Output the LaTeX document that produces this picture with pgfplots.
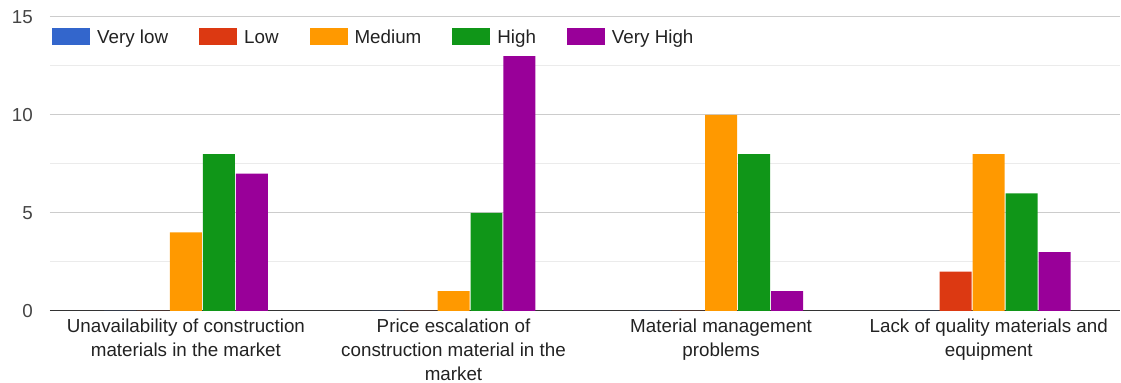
\documentclass[border=0pt]{standalone}
\usepackage{pgfplots}
\pgfplotsset{compat=1.18}
\usepackage{fontspec}
\setmainfont{Liberation Sans}
\definecolor{cVL}{HTML}{3366CC}
\definecolor{cL}{HTML}{DC3912}
\definecolor{cM}{HTML}{FF9900}
\definecolor{cH}{HTML}{109618}
\definecolor{cVH}{HTML}{990099}
\definecolor{txt}{HTML}{222222}
\definecolor{tick}{HTML}{444444}
\newcommand\ls{\rule[-3pt]{0pt}{19.2pt}}
\begin{document}
\fontsize{18.8}{24}\selectfont
\begin{tikzpicture}
\begin{axis}[
  at={(0,0)}, anchor=south west,
  scale only axis,
  width=1071pt, height=294pt,
  xmin=-0.508, xmax=3.492,
  ymin=0, ymax=15,
  ybar=1pt, bar width=32pt,
  xtick={0,1,2,3},
  xticklabels={{Unavailability of construction\\materials in the market},
               {Price escalation of\\construction material in the\\market},
               {Material management\\problems},
               {Lack of quality materials and\\equipment}},
  xticklabel style={align=center, inner sep=0pt, yshift=-8pt, text=txt, font=\fontsize{18.8}{24}\selectfont},
  ytick={0,5,10,15},
  minor ytick={2.5,7.5,12.5},
  yticklabel style={inner sep=0pt, xshift=-17pt, text=tick, font=\fontsize{18.8}{24}\selectfont},
  /pgf/number format/assume math mode=true,
  major tick length=0pt, minor tick length=0pt,
  ymajorgrids, yminorgrids,
  major grid style={draw=black!20, line width=1pt},
  minor grid style={draw=black!8, line width=1pt},
  axis x line*=bottom, axis y line*=left,
  x axis line style={draw=black!80, line width=1.3pt, -},
  y axis line style={draw=none},
  legend columns=-1,
  legend style={at={(rel axis cs:0.0019,0.932)}, anchor=west, draw=none, fill=none,
    inner sep=0pt, cells={anchor=west}, nodes={inner sep=0pt, text=txt, font=\fontsize{18.8}{24}\selectfont},
    /tikz/every odd column/.append style={column sep=7pt},
    /tikz/every even column/.append style={column sep=31pt}},
  legend image code/.code={\fill[#1] (0pt,-8.5pt) rectangle (38pt,8.5pt);},
]
\addplot[fill=cVL, draw=none] coordinates {(0,0) (1,0) (2,0) (3,0)};
\addplot[fill=cL, draw=none] coordinates {(0,0) (1,0) (2,0) (3,2)};
\addplot[fill=cM, draw=none] coordinates {(0,4) (1,1) (2,10) (3,8)};
\addplot[fill=cH, draw=none] coordinates {(0,8) (1,5) (2,8) (3,6)};
\addplot[fill=cVH, draw=none] coordinates {(0,7) (1,13) (2,1) (3,3)};
\legend{\ls Very low, \ls Low, \ls Medium, \ls High, \ls Very High}
\end{axis}
\path[use as bounding box] (-50pt,-72pt) rectangle (1071pt,311pt);
\end{tikzpicture}
\end{document}
